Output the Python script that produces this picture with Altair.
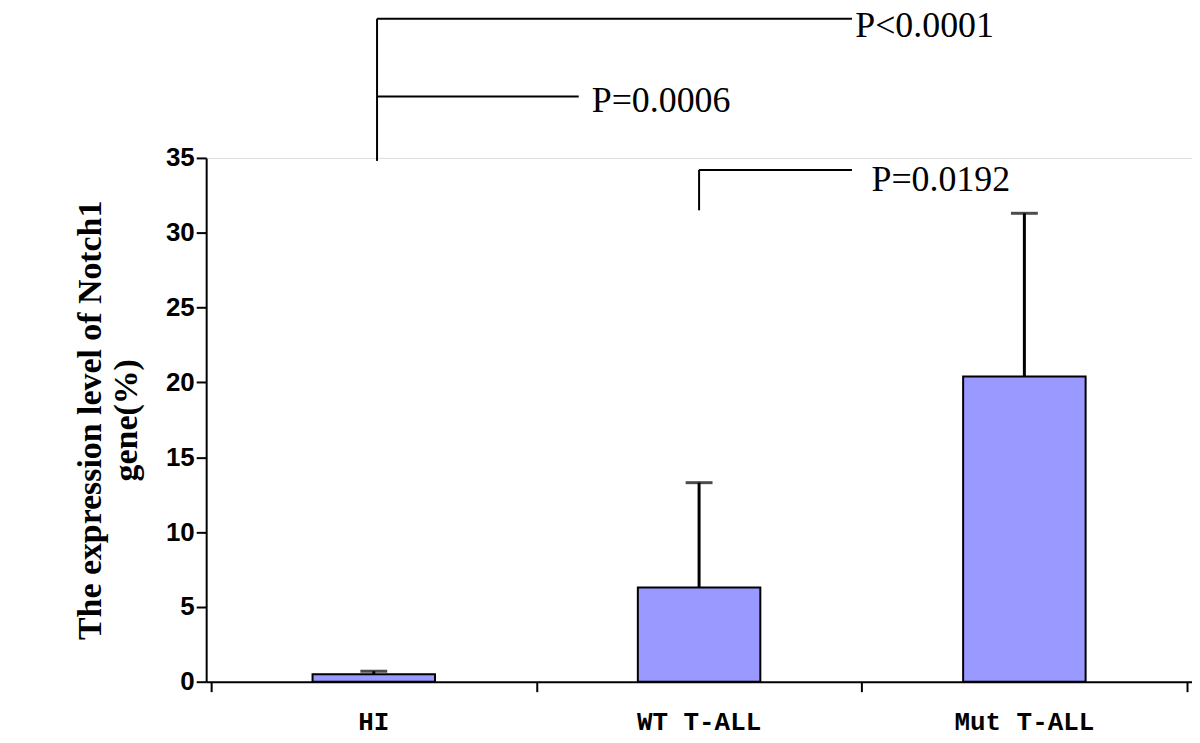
import altair as alt
import pandas as pd

groups = ["HI", "WT T-ALL", "Mut T-ALL"]
pos = [0.5, 1.5, 2.5]
means = [0.5, 6.3, 20.4]
errs = [0.7, 13.3, 31.3]

# significance brackets (x, y in data units)
seg_x = [0.51, 0.51, 0.51, 1.5, 1.5]
seg_x2 = [0.51, 1.97, 1.13, 1.5, 1.97]
seg_y = [34.8, 44.3, 39.1, 31.5, 34.2]
seg_y2 = [44.3, 44.3, 39.1, 34.2, 34.2]
p_labels = ["P<0.0001", "P=0.0006", "P=0.0192"]
p_x = [1.98, 1.17, 2.03]
p_y = [43.8, 38.8, 33.5]

bars = pd.DataFrame({"g": groups, "x": pos, "m": means, "e": errs})
segs = pd.DataFrame({"x": seg_x, "x2": seg_x2, "y": seg_y, "y2": seg_y2})
plab = pd.DataFrame({"t": p_labels, "x": p_x, "y": p_y})

xs = alt.Scale(domain=[0, 3], nice=False)
ys = alt.Scale(domain=[0, 35], nice=False)

base = alt.Chart(bars)
bar = base.mark_bar(size=123, color="#9999FF", stroke="black", strokeWidth=2).encode(
    x=alt.X("x:Q", scale=xs, axis=alt.Axis(values=[0, 1, 2, 3], labels=False, title=None, offset=0,
                                           domainColor="black", tickColor="black",
                                           domainWidth=2, tickWidth=2, tickSize=10, grid=False)),
    y=alt.Y("m:Q", scale=ys, axis=alt.Axis(values=[0, 5, 10, 15, 20, 25, 30, 35], offset=0,
                                           title=["The expression level of Notch1", "gene(%)"],
                                           titleFont="Liberation Serif", titleFontSize=34,
                                           titleColor="black", titlePadding=22,
                                           labelFont="Liberation Sans", labelFontSize=26,
                                           labelFontWeight="bold", labelColor="black",
                                           domainColor="black", tickColor="black",
                                           domainWidth=2, tickWidth=2, tickSize=10, grid=False)),
)
err = base.mark_rule(color="black", strokeWidth=3).encode(x="x:Q", y="m:Q", y2="e:Q")
cap = base.mark_tick(color="black", thickness=3, size=27, orient="horizontal").encode(x="x:Q", y="e:Q")
cat = base.mark_text(font="Liberation Mono", fontSize=26, fontWeight="bold", baseline="middle",
                     color="black", clip=False).encode(x="x:Q", y=alt.value(566), text="g:N")
lines = alt.Chart(segs).mark_rule(color="black", strokeWidth=2, clip=False).encode(
    x="x:Q", x2="x2:Q", y="y:Q", y2="y2:Q")
ptxt = alt.Chart(plab).mark_text(font="Liberation Serif", fontSize=36, align="left",
                                 baseline="middle", color="black", clip=False).encode(
    x="x:Q", y="y:Q", text="t:N")

chart = alt.layer(bar, err, cap, lines, ptxt, cat).properties(
    width=990, height=526, autosize=alt.AutoSizeParams(type="none"),
    padding={"left": 199, "top": 149, "right": 0, "bottom": 60},
).configure_view(stroke=None).configure(background="white")

chart.save("out.html", embed_options={"renderer": "svg", "actions": False})
